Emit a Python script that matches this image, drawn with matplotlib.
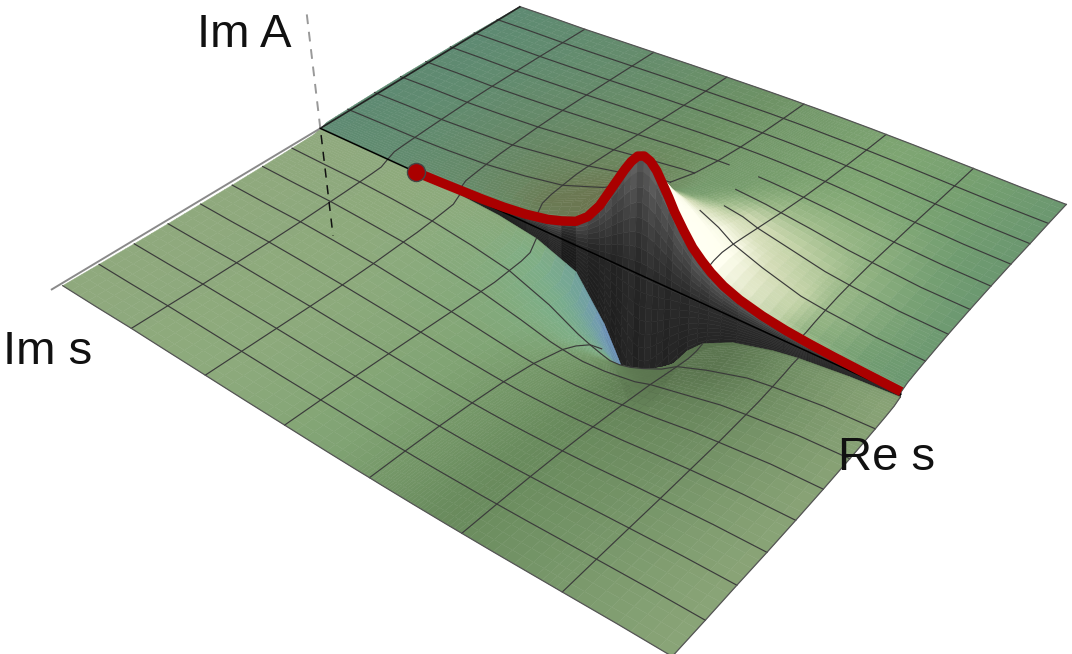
import numpy as np
import matplotlib
matplotlib.use("Agg")
import matplotlib.pyplot as plt
from matplotlib.colors import LinearSegmentedColormap, to_rgb
from mpl_toolkits.mplot3d import proj3d
from mpl_toolkits.mplot3d.art3d import Poly3DCollection

plt.rcParams["font.family"] = ["Liberation Sans", "DejaVu Sans"]

# heights, sheet above the cut; the sheet below is nearly its mirror image
re_nodes = [0, .07, .143, .21, .286, .36, .429, .50, .55, .571, .59, .605, .621, .64, .66, .69, .714, .76, .82, .857, .93, 1]
im_nodes = [0, .03, .07, .125, .19, .25, .375, .5, .625, .75, .875, 1]
im_a_rows = [
    [0, 0, 0, .003, .02, .04, .085, .2, .5, .68, .85, .93, .91, .78, .61, .40, .29, .18, .105, .075, .04, .02],
    [.019, .024, .028, .04, .06, .10, .16, .32, .55, .67, .78, .82, .81, .73, .61, .44, .31, .19, .10, .08, .05, .04],
    [.023, .029, .035, .048, .07, .115, .18, .32, .50, .58, .645, .668, .66, .615, .544, .42, .32, .21, .119, .095, .062, .05],
    [.028, .036, .042, .057, .083, .13, .19, .315, .44, .48, .51, .53, .525, .50, .46, .39, .31, .225, .136, .11, .074, .06],
    [.034, .043, .05, .067, .095, .14, .2, .29, .37, .40, .42, .425, .42, .41, .39, .34, .29, .226, .148, .124, .085, .07],
    [.039, .049, .056, .075, .10, .15, .197, .27, .33, .345, .355, .36, .355, .35, .335, .31, .27, .22, .154, .13, .093, .078],
    [.047, .059, .067, .085, .11, .148, .183, .227, .257, .265, .27, .27, .27, .268, .26, .247, .23, .20, .154, .135, .10, .088],
    [.052, .065, .073, .09, .113, .14, .166, .195, .21, .215, .218, .219, .218, .216, .213, .205, .196, .178, .147, .13, .105, .093],
    [.058, .069, .076, .092, .11, .132, .15, .169, .178, .181, .182, .183, .183, .182, .18, .175, .17, .158, .136, .125, .104, .094],
    [.061, .071, .078, .09, .105, .122, .135, .149, .155, .156, .157, .158, .158, .157, .155, .153, .149, .141, .125, .116, .099, .09],
    [.062, .071, .076, .087, .10, .113, .122, .131, .136, .137, .138, .138, .138, .137, .136, .135, .132, .126, .115, .108, .096, .09],
    [.063, .071, .075, .085, .095, .105, .112, .119, .122, .122, .123, .123, .123, .123, .122, .121, .119, .115, .107, .102, .091, .086],
]
near_depth_rows = [1.12, 1.1, 1.07, 1.04, 1.02, 1, 1, 1, 1, 1, 1, 1]
lip_re = [.20, .25, .29, .33, .37, .41, .45, .475, .50, .52, .54, .55, .56, .57, .58, .59, .60, .61, .62, .63, .64, .65, .66,
          .675, .69, .705, .72, .74, .765, .80, .835, .87, .905, .95, 1]
lip_im_a = [0, .01, .02, .03, .045, .07, .11, .15, .2, .28, .41, .5, .59, .68, .77, .85, .91, .93, .91, .86, .78, .70, .61,
            .50, .40, .33, .27, .21, .16, .115, .085, .065, .05, .035, .02]
wall_stripes = [.9, .95, 1.05, .95, .9, 1.0, 1.1, .75, 1.0, .9, .95, 1.0, .9, .95, 1.05, 1.1, .95, 1.05, 1.15, 1.05, 1.1, 1.0, 1.1,
                1.05, 1.15, 1.1, 1.15, 1.1, 1.15, 1.15, 1.15, 1.1, 1.15, 1.15]
mesh_re = [.143, .286, .429, .571, .714, .857]
mesh_im = [.125, .25, .375, .5, .625, .75, .875]

near_flat = [(0, "#8FA97D"), (.3, "#8DAA7C"), (.5, "#80A373"), (.68, "#688A5C"), (.85, "#7A996C"), (1, "#8BA578")]
back_flat = [(0, "#5E8A72"), (.3, "#668D6C"), (.5, "#6D9165"), (.75, "#7FA673"), (.88, "#759F70"), (1, "#6A9770")]
near_lit = [(0, "#85AF80"), (.3, "#7AAE8A"), (.6, "#6FA0A0"), (1, "#7397BE")]
back_lit = [(0, "#A9C48F"), (.3, "#D5DDB8"), (.65, "#FFFFEE"), (1, "#FFFFF2")]

W, H = 1072, 654
scale, ox, oy = 5512.26, 576.09, 245.49

fig = plt.figure(figsize=(W / 100, H / 100), dpi=100)
ax = fig.add_axes([0, 0, 1, 1], projection="3d", computed_zorder=False)
ax.set_xlim(0, 1)
ax.set_ylim(-1, 1)
ax.set_zlim(-1, 1)
ax.set_axis_off()
ax.set_box_aspect((1, .9632, .4077))
ax.view_init(elev=36.0968, azim=-51.9486, roll=.1497)
ax.set_proj_type("persp", focal_length=.2761)

x0, x1 = ax.viewLim.intervalx
y0, y1 = ax.viewLim.intervaly
ax.set_position([(ox + scale * x0) / W, 1 - (oy - scale * y0) / H, scale * (x1 - x0) / W, scale * (y1 - y0) / H])

re_nodes = np.array(re_nodes)
im_nodes = np.array(im_nodes)
im_a_rows = np.array(im_a_rows)
near_rows = im_a_rows * np.array(near_depth_rows)[:, None]
lip_re = np.array(lip_re)
lip_im_a = np.array(lip_im_a)
M = ax.get_proj()


def blend(a, b, t):
    return a * (1 - t[..., None]) + b * t[..., None]


def sheet_colors(rows, flat, bright, dark, bright_from, bright_span, dark_span, sign):
    grid_re, _ = np.meshgrid(re_nodes, im_nodes)
    base = LinearSegmentedColormap.from_list("f", flat)(grid_re)[..., :3]
    slope = -sign * np.gradient(rows, re_nodes, axis=1)
    up = np.clip((slope - bright_from) / bright_span, 0, 1)
    down = np.clip((-slope - .15) / dark_span, 0, 1)
    lit = LinearSegmentedColormap.from_list("l", bright)(up)[..., :3]
    col = blend(base, lit, np.clip(up * 6, 0, 1))
    return np.clip(blend(col, np.array(to_rgb(dark)), down), 0, 1)


def split_facets(values, sub=4):
    # flat facets stay flat, this only spreads the shading smoothly across each of them
    rows = np.linspace(0, values.shape[0] - 1, (values.shape[0] - 1) * sub + 1)
    cols = np.linspace(0, values.shape[1] - 1, (values.shape[1] - 1) * sub + 1)
    out = np.array([np.interp(cols, np.arange(values.shape[1]), row) for row in values])
    return np.array([np.interp(rows, np.arange(values.shape[0]), col) for col in out.T]).T


def hidden_nodes(im_sign, heights):
    grid_re, grid_im = np.meshgrid(re_nodes, im_sign * im_nodes)
    _, py, _ = proj3d.proj_transform(grid_re.ravel(), grid_im.ravel(), heights.ravel(), M)
    py = np.asarray(py).reshape(grid_re.shape)
    hid = np.zeros(py.shape, bool)
    for j in range(py.shape[0]):
        front = py[j + 1:] if im_sign < 0 else py[:j]
        if len(front):
            hid[j] = (front > py[j] + .0015).any(axis=0)
    return hid


def draw_sheet(im_sign, heights, colors, zo):
    grid_re, grid_im = np.meshgrid(re_nodes, im_sign * im_nodes)
    fine_colors = np.dstack([split_facets(colors[..., c]) for c in range(3)])
    surf = ax.plot_surface(split_facets(grid_re), split_facets(grid_im), split_facets(heights),
                           facecolors=fine_colors, rstride=1, cstride=1, shade=False,
                           linewidth=.3, antialiased=True, zorder=zo)
    surf.set_clip_on(False)
    masked = np.where(hidden_nodes(im_sign, heights), np.nan, heights)
    line_kw = dict(color="#3a3a3a", lw=.85, zorder=zo + .5, clip_on=False)
    for value in mesh_im:
        j = np.argmin(np.abs(im_nodes - value))
        ax.plot(re_nodes, grid_im[j], masked[j], **line_kw)
    for value in mesh_re:
        i = np.argmin(np.abs(re_nodes - value))
        ax.plot(grid_re[:, i], grid_im[:, i], masked[:, i], **line_kw)
    edge_kw = dict(color="#555555", lw=.9, zorder=zo + .5, clip_on=False)
    ax.plot(re_nodes, grid_im[-1], heights[-1], **edge_kw)
    ax.plot(grid_re[:, -1], grid_im[:, -1], heights[:, -1], **edge_kw)


# the back sheet, bright on the right side of the peak
back_colors = sheet_colors(im_a_rows, back_flat, back_lit, "#6B7650", .25, 4.5, 1.6, 1)
draw_sheet(1, im_a_rows, back_colors, 2)
ax.plot(np.zeros(2), [0, 1], [0, .06], color="#222222", lw=1.2, zorder=3, clip_on=False)

# the wall between the two lips of the cut, runs on under the front sheet so no gap shows
wall_levels = np.linspace(-1.3, 1, 19)
wall_polys, wall_colors = [], []
for i in range(len(lip_re) - 1):
    for k in range(len(wall_levels) - 1):
        lo, hi = wall_levels[k], wall_levels[k + 1]
        wall_polys.append([(lip_re[i], 0, lo * lip_im_a[i]), (lip_re[i + 1], 0, lo * lip_im_a[i + 1]),
                           (lip_re[i + 1], 0, hi * lip_im_a[i + 1]), (lip_re[i], 0, hi * lip_im_a[i])])
        shade = (.13 + .17 * max(hi, 0) ** 1.5 + .02 * (hi + 1)) * wall_stripes[i]
        wall_colors.append((shade, shade, shade))
wall = Poly3DCollection(wall_polys, facecolors=wall_colors, edgecolors=wall_colors, linewidths=.4, zorder=4)
ax.add_collection3d(wall)
wall.set_clip_on(False)

near_colors = sheet_colors(near_rows, near_flat, near_lit, "#5C7650", .3, 8, 1.5, -1)
draw_sheet(-1, -near_rows, near_colors, 5)
ax.plot([0, -.004], [0, -1.03], [0, -.06], color="#8a8a8a", lw=1.4, zorder=6, clip_on=False)

ax.plot([0, 1], [0, 0], [0, 0], color="black", lw=1.1, zorder=7, clip_on=False)
ax.plot([0, 0], [0, 0], [0, 1], color="#999999", lw=1.4, ls=(0, (5, 4)), zorder=1, clip_on=False)
ax.plot([0, 0], [0, 0], [-.06, -1], color="#111111", lw=1.1, ls=(0, (6, 5)), zorder=7, clip_on=False)
ax.plot(lip_re, np.zeros(len(lip_re)), lip_im_a, color="#AA0000", lw=6.8, zorder=8, clip_on=False,
        solid_joinstyle="round", solid_capstyle="butt")
ax.plot(lip_re[:1], [0], lip_im_a[:1], "o", ms=13, mfc="#AA0000", mec="#444444", mew=1, zorder=9, clip_on=False)

for label, px, py in [("Im A", 197, 47), ("Im s", 3, 364), ("Re s", 838, 470)]:
    fig.text(px / W, 1 - py / H, label, fontsize=34, color="#111111", va="baseline", zorder=10)

fig.savefig("out.png", dpi=100)
